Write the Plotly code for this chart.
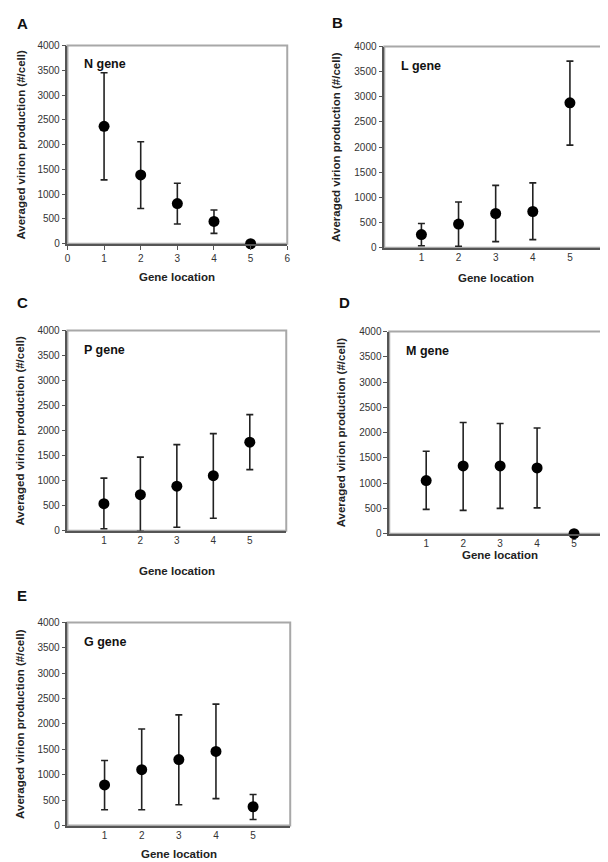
import plotly.graph_objects as go

W, H = 608, 862

gene_location = [1, 2, 3, 4, 5]

# N gene (panel A)
n_mean = [2370, 1390, 810, 450, 0]
n_upper = [3450, 2060, 1220, 680, 0]
n_lower = [1290, 710, 400, 210, 0]

# L gene (panel B)
l_mean = [260, 470, 680, 720, 2880]
l_upper = [480, 910, 1240, 1290, 3710]
l_lower = [40, 30, 120, 160, 2040]

# P gene (panel C)
p_mean = [540, 720, 890, 1100, 1770]
p_upper = [1050, 1470, 1720, 1940, 2320]
p_lower = [40, -10, 70, 250, 1220]

# M gene (panel D)
m_mean = [1050, 1340, 1340, 1300, 0]
m_upper = [1630, 2200, 2180, 2090, 0]
m_lower = [480, 460, 500, 510, 0]

# G gene (panel E)
g_mean = [800, 1100, 1300, 1460, 370]
g_upper = [1280, 1900, 2180, 2390, 610]
g_lower = [310, 310, 410, 530, 120]

y_ticks = [0, 500, 1000, 1500, 2000, 2500, 3000, 3500, 4000]
x_ticks_a = [0, 1, 2, 3, 4, 5, 6]
x_ticks_other = [1, 2, 3, 4, 5]

panels = [
    # letter, gene label, mean, upper, lower, plot box px (l, r, t, b), letter pos, ytitle x, xtitle y
    ("A", "N gene", n_mean, n_upper, n_lower, (57, 279, 32, 233), (4, 10), 10, 267, True),
    ("B", "L gene", l_mean, l_upper, l_lower, (377, 602, 33, 237), (322, 9), 328, 268, False),
    ("C", "P gene", p_mean, p_upper, p_lower, (57, 278, 321, 524), (4, 293), 9, 565, False),
    ("D", "M gene", m_mean, m_upper, m_lower, (382, 606, 322, 527), (329, 293), 333, 549, False),
    ("E", "G gene", g_mean, g_upper, g_lower, (57, 282, 617, 823), (4, 590), 9, 852, False),
]

FONT = "Liberation Sans, Arial, sans-serif"
fig = go.Figure()
annotations = []
shapes = []
layout_axes = {}

for i, (letter, gene, mean, up, lo, box, lpos, ytx, xty, full_x) in enumerate(panels):
    idx = "" if i == 0 else str(i + 1)
    xa, ya = "x" + idx, "y" + idx
    l, r, t, b = box
    plus = [u - m for u, m in zip(up, mean)]
    minus = [m - v for m, v in zip(mean, lo)]
    fig.add_trace(go.Scatter(
        x=gene_location, y=mean, mode="markers", xaxis=xa, yaxis=ya,
        marker=dict(size=11, color="black"),
        error_y=dict(type="data", symmetric=False, array=plus, arrayminus=minus,
                     color="#222222", thickness=1.6, width=3.5),
        cliponaxis=False, showlegend=False,
    ))
    layout_axes["xaxis" + idx] = dict(
        domain=[l / W, r / W], range=[0, 6], anchor=ya,
        tickvals=x_ticks_a if full_x else x_ticks_other,
        ticks="outside" if full_x else "", ticklen=4, tickcolor="#555555",
        showline=True, linecolor="#555555", linewidth=1.5,
        showgrid=False, zeroline=False,
        tickfont=dict(family=FONT, size=10, color="#333333"),
        fixedrange=True,
    )
    layout_axes["yaxis" + idx] = dict(
        domain=[1 - b / H, 1 - t / H], range=[0, 4000], anchor=xa,
        tickvals=y_ticks, ticks="outside", ticklen=4, tickcolor="#555555",
        showline=True, linecolor="#555555", linewidth=1.5,
        showgrid=False, zeroline=False,
        tickfont=dict(family=FONT, size=10, color="#333333"),
        fixedrange=True,
    )
    shapes.append(dict(type="rect", xref=xa + " domain", yref=ya + " domain",
                       x0=0, x1=1, y0=0, y1=1, layer="below",
                       line=dict(color="#a8a8a8", width=2)))
    annotations.append(dict(text="<b>%s</b>" % gene, xref=xa + " domain", yref=ya + " domain",
                            x=0.065, y=0.905, xanchor="left", yanchor="middle", showarrow=False,
                            font=dict(family=FONT, size=12.5, color="#111111")))
    annotations.append(dict(text="<b>%s</b>" % letter, xref="paper", yref="paper",
                            x=lpos[0] / W, y=1 - lpos[1] / H, xanchor="left", yanchor="middle",
                            showarrow=False, font=dict(family=FONT, size=15, color="#111111")))
    annotations.append(dict(text="<b>Averaged virion production (#/cell)</b>", xref="paper", yref="paper",
                            x=ytx / W, y=1 - (t + b) / 2 / H, xanchor="center", yanchor="middle",
                            textangle=-90, showarrow=False,
                            font=dict(family=FONT, size=11.5, color="#222222")))
    annotations.append(dict(text="<b>Gene location</b>", xref="paper", yref="paper",
                            x=(l + r) / 2 / W, y=1 - xty / H, xanchor="center", yanchor="middle",
                            showarrow=False, font=dict(family=FONT, size=11.5, color="#222222")))

fig.update_layout(
    width=W, height=H, margin=dict(l=0, r=0, t=0, b=0),
    paper_bgcolor="white", plot_bgcolor="white",
    annotations=annotations, shapes=shapes, **layout_axes,
)

fig.write_html("out.html", config={"displayModeBar": False})
